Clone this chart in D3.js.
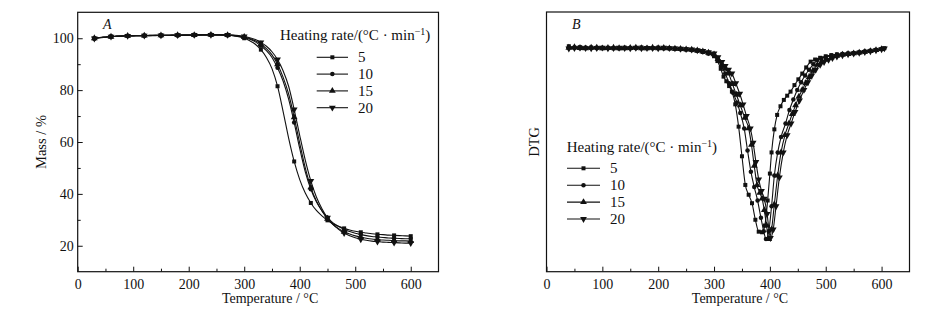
<!DOCTYPE html>
<html><head><meta charset="utf-8">
<script src="https://cdn.jsdelivr.net/npm/d3@7"></script>
<style>
body{margin:0;background:#fff}
svg{display:block}
text{font-family:"Liberation Serif","Times New Roman",serif;fill:#111}
</style>
</head><body>
<svg id="c" width="945" height="325"></svg>
<script>
// ---------- DATA ----------
const rates = ["5", "10", "15", "20"];
const xTicks = [0, 100, 200, 300, 400, 500, 600];
const xMinorTicks = [50, 150, 250, 350, 450, 550];
const yTicksMass = [20, 40, 60, 80, 100];
const yMinorMass = [30, 50, 70, 90];

// TG: temperature (°C)
const tgTemps = [30,40,50,60,70,80,90,100,110,120,130,140,150,160,170,180,190,200,210,220,230,240,250,260,270,
  280,290,300,310,320,330,340,350,360,370,380,390,400,410,420,430,440,450,460,470,480,490,500,510,520,530,540,550,560,570,580,590,600];
// TG: mass (%)
const tgMass5 = [100.0,100.3,100.5,100.7,100.8,100.9,100.9,101.0,101.0,101.0,101.1,101.1,101.1,101.1,101.2,101.2,101.2,101.2,101.3,101.3,101.3,101.3,101.3,101.3,101.2,
  101.0,100.6,100.0,99.0,97.7,95.6,92.6,88.3,81.5,71.8,61.5,52.5,45.5,40.3,36.5,33.6,31.5,29.8,28.5,27.5,26.7,26.1,25.6,25.2,24.9,24.6,24.4,24.3,24.1,24.0,23.9,23.8,23.7];
const tgMass10 = [99.8,100.2,100.5,100.6,100.8,100.8,100.9,100.9,101.0,101.0,101.0,101.0,101.1,101.1,101.1,101.1,101.2,101.2,101.2,101.2,101.3,101.3,101.3,101.2,101.2,
  101.0,100.7,100.3,99.6,98.6,97.1,95.2,92.6,88.6,83.5,76.5,67.5,57.5,48.5,41.8,37.0,33.5,30.8,28.8,27.4,26.3,25.5,24.8,24.3,23.9,23.6,23.4,23.2,23.0,22.9,22.8,22.7,22.7];
const tgMass15 = [100.0,100.3,100.4,100.6,100.7,100.8,100.9,100.9,101.0,101.0,101.0,101.1,101.1,101.1,101.1,101.2,101.2,101.2,101.2,101.3,101.3,101.3,101.3,101.3,101.2,
  101.1,100.8,100.5,99.9,99.0,97.7,96.0,93.6,90.0,85.0,78.5,69.5,59.5,50.0,42.5,37.3,33.4,30.4,28.2,26.6,25.4,24.5,23.8,23.3,22.9,22.6,22.4,22.2,22.1,22.0,21.9,21.9,21.8];
const tgMass20 = [99.9,100.2,100.4,100.6,100.7,100.8,100.9,101.0,101.0,101.0,101.1,101.1,101.1,101.1,101.2,101.2,101.2,101.2,101.3,101.3,101.3,101.3,101.3,101.3,101.3,
  101.2,101.0,100.7,100.2,99.5,98.4,96.9,94.8,91.8,87.5,81.5,72.5,62.5,53.0,45.0,38.8,34.3,30.8,28.2,26.3,24.9,23.9,23.1,22.5,22.1,21.8,21.6,21.4,21.3,21.2,21.1,21.0,21.0];

// DTG: [temperature °C, DTG (arb. units)]
const dtg5 = [[40,-0.28],[50,-0.36],[60,-0.33],[70,-0.37],[80,-0.34],[90,-0.36],[100,-0.38],[110,-0.36],[120,-0.39],[130,-0.37],[140,-0.35],[150,-0.38],[160,-0.37],[170,-0.34],[180,-0.38],[190,-0.37],[200,-0.35],[210,-0.39],[220,-0.38],[230,-0.41],[240,-0.42],[250,-0.45],[260,-0.48],[270,-0.52],[280,-0.58],[290,-0.66],
  [300,-0.8],[306,-1.05],[312,-1.45],[317,-1.86],[322,-2.1],[327,-2.35],[332,-2.64],[338,-3.3],[344,-4.46],[350,-6.0],[356,-7.49],[362,-8.0],[368,-8.44],[374,-9.3],[380,-9.92],[386,-9.95],[391,-9.6],[396,-8.3],[400,-6.9],[403,-5.8],[408,-4.6],[413,-3.85],[419,-3.4],[425,-3.07],[431,-2.85],[437,-2.64],[444,-2.3],[451,-2.0],[458,-1.7],[465,-1.38],[473,-1.08],[481,-0.97],[490,-0.88],[500,-0.8],[510,-0.74],[520,-0.7],[530,-0.68],[540,-0.66],[550,-0.63],[560,-0.6],[570,-0.56],[580,-0.52],[590,-0.47],[600,-0.42],[605,-0.38]];
const dtg10 = [[40,-0.33],[50,-0.35],[60,-0.38],[70,-0.35],[80,-0.37],[90,-0.39],[100,-0.36],[110,-0.38],[120,-0.37],[130,-0.40],[140,-0.37],[150,-0.36],[160,-0.39],[170,-0.37],[180,-0.36],[190,-0.39],[200,-0.37],[210,-0.38],[220,-0.40],[230,-0.40],[240,-0.43],[250,-0.44],[260,-0.47],[270,-0.51],[280,-0.56],[290,-0.64],
  [300,-0.75],[307,-1.0],[314,-1.35],[320,-1.7],[327,-2.2],[334,-2.7],[341,-3.2],[347,-3.75],[354,-4.55],[360,-5.7],[366,-6.8],[372,-7.6],[378,-8.3],[384,-9.2],[389,-9.9],[393,-10.3],[398,-9.9],[403,-8.6],[408,-7.0],[414,-5.8],[420,-5.0],[428,-4.3],[435,-3.6],[442,-3.05],[449,-2.55],[456,-2.15],[463,-1.8],[470,-1.5],[478,-1.22],[485,-1.0],[492,-0.9],[500,-0.84],[510,-0.77],[520,-0.72],[530,-0.69],[540,-0.66],[550,-0.64],[560,-0.6],[570,-0.56],[580,-0.52],[590,-0.47],[600,-0.42]];
const dtg15 = [[40,-0.36],[50,-0.33],[60,-0.37],[70,-0.39],[80,-0.36],[90,-0.35],[100,-0.39],[110,-0.37],[120,-0.36],[130,-0.38],[140,-0.39],[150,-0.37],[160,-0.35],[170,-0.38],[180,-0.39],[190,-0.36],[200,-0.38],[210,-0.37],[220,-0.39],[230,-0.41],[240,-0.42],[250,-0.44],[260,-0.46],[270,-0.50],[280,-0.55],[290,-0.62],
  [300,-0.7],[307,-0.95],[314,-1.25],[320,-1.45],[326,-1.7],[333,-2.25],[340,-2.8],[347,-3.35],[355,-4.0],[362,-4.55],[367,-5.4],[372,-6.5],[377,-7.5],[382,-7.9],[386,-8.2],[390,-8.8],[394,-9.6],[398,-10.3],[403,-9.8],[408,-8.5],[414,-7.0],[420,-5.8],[427,-4.9],[434,-4.3],[440,-3.8],[446,-3.35],[452,-2.9],[458,-2.55],[464,-2.2],[470,-1.9],[477,-1.55],[485,-1.25],[492,-1.1],[500,-0.97],[510,-0.86],[520,-0.78],[530,-0.72],[540,-0.68],[550,-0.65],[560,-0.61],[570,-0.57],[580,-0.53],[590,-0.48],[600,-0.43]];
const dtg20 = [[40,-0.40],[50,-0.38],[60,-0.35],[70,-0.38],[80,-0.39],[90,-0.37],[100,-0.35],[110,-0.39],[120,-0.38],[130,-0.36],[140,-0.38],[150,-0.39],[160,-0.36],[170,-0.39],[180,-0.37],[190,-0.38],[200,-0.39],[210,-0.36],[220,-0.38],[230,-0.39],[240,-0.41],[250,-0.43],[260,-0.45],[270,-0.49],[280,-0.53],[290,-0.59],
  [300,-0.65],[307,-0.85],[314,-1.1],[320,-1.3],[326,-1.5],[332,-1.7],[339,-2.2],[346,-2.75],[352,-3.3],[358,-3.9],[365,-4.55],[370,-5.3],[375,-6.3],[380,-7.2],[385,-7.8],[390,-8.2],[395,-9.0],[401,-10.25],[406,-9.8],[411,-8.6],[417,-7.1],[424,-5.8],[431,-4.9],[438,-4.3],[445,-3.7],[453,-3.1],[461,-2.55],[468,-2.15],[475,-1.8],[482,-1.5],[490,-1.25],[497,-1.1],[505,-0.99],[512,-0.9],[520,-0.82],[530,-0.75],[540,-0.7],[550,-0.66],[560,-0.62],[570,-0.58],[580,-0.54],[590,-0.49],[600,-0.44],[605,-0.39]];

// ---------- DRAW ----------
const svg = d3.select("#c");
const FONT = 14;

const tgSeries = [tgMass5, tgMass10, tgMass15, tgMass20].map(arr => tgTemps.map((t, i) => [t, arr[i]]));
const dtgSeries = [dtg5, dtg10, dtg15, dtg20];

const symTypes = [d3.symbolSquare, d3.symbolCircle, d3.symbolTriangle, d3.symbolTriangle];
const symSizes = [16, 16, 20, 20];
const symRot = [0, 0, 0, 180];
function marker(g, i, x, y) {
  g.append("path")
    .attr("d", d3.symbol().type(symTypes[i]).size(symSizes[i])())
    .attr("transform", `translate(${x},${y}) rotate(${symRot[i]})`)
    .attr("fill", "#111");
}

function panel(opt) {
  const {x0, x1, y0, y1, yDomain, series, markerEvery, label, yLabel, yTicks, yMinor, legend} = opt;
  const x = d3.scaleLinear().domain([0, 650]).range([x0, x1]);
  const y = d3.scaleLinear().domain(yDomain).range([y1, y0]);
  const g = svg.append("g");

  // x axis major
  const ax = g.append("g").attr("transform", `translate(0,${y1})`)
    .call(d3.axisBottom(x).tickValues(xTicks).tickSize(-5).tickPadding(7).tickFormat(d3.format("d")));
  ax.select(".domain").remove();
  ax.selectAll("line").attr("stroke", "#111");
  ax.selectAll("text").attr("font-size", FONT).attr("font-family", '"Liberation Serif",serif').attr("fill", "#111");
  const axm = g.append("g").attr("transform", `translate(0,${y1})`)
    .call(d3.axisBottom(x).tickValues(xMinorTicks).tickSize(-3).tickFormat(""));
  axm.select(".domain").remove();
  axm.selectAll("line").attr("stroke", "#111");

  if (yTicks) {
    const ay = g.append("g").attr("transform", `translate(${x0},0)`)
      .call(d3.axisLeft(y).tickValues(yTicks).tickSize(-5).tickPadding(4).tickFormat(d3.format("d")));
    ay.select(".domain").remove();
    ay.selectAll("line").attr("stroke", "#111");
    ay.selectAll("text").attr("font-size", FONT).attr("font-family", '"Liberation Serif",serif').attr("fill", "#111");
    const aym = g.append("g").attr("transform", `translate(${x0},0)`)
      .call(d3.axisLeft(y).tickValues(yMinor).tickSize(-3).tickFormat(""));
    aym.select(".domain").remove();
    aym.selectAll("line").attr("stroke", "#111");
  }

  // frame
  g.append("rect").attr("x", x0).attr("y", y0).attr("width", x1 - x0).attr("height", y1 - y0)
    .attr("fill", "none").attr("stroke", "#111").attr("stroke-width", 1.2);

  // curves
  const line = d3.line().x(d => x(d[0])).y(d => y(d[1])).curve(d3.curveMonotoneX);
  series.forEach((s, i) => {
    g.append("path").attr("d", line(s)).attr("fill", "none").attr("stroke", "#111").attr("stroke-width", 1.1);
    s.forEach((d, j) => { if (j % markerEvery === 0) marker(g, i, x(d[0]), y(d[1])); });
  });

  // titles
  g.append("text").attr("x", (x0 + x1) / 2 + 12).attr("y", 303).attr("text-anchor", "middle")
    .attr("font-size", FONT).text("Temperature / °C");
  g.append("text").attr("transform", `translate(${yLabel.x},${(y0 + y1) / 2}) rotate(-90)`)
    .attr("text-anchor", "middle").attr("font-size", FONT + 0.5).text(yLabel.text);
  g.append("text").attr("x", label.x).attr("y", 29).attr("font-style", "italic")
    .attr("font-size", FONT).text(label.text);

  // legend
  const lg = g.append("g");
  const t = lg.append("text").attr("x", legend.tx).attr("y", legend.ty).attr("font-size", 15);
  t.append("tspan").text("Heating rate/(°C · min");
  t.append("tspan").attr("dy", -5).attr("font-size", 10).text("−1");
  t.append("tspan").attr("dy", 5).text(")");
  rates.forEach((r, i) => {
    const yy = legend.ly + i * legend.dy;
    lg.append("line").attr("x1", legend.lx0).attr("x2", legend.lx1).attr("y1", yy).attr("y2", yy)
      .attr("stroke", "#111").attr("stroke-width", 1.1);
    marker(lg, i, (legend.lx0 + legend.lx1) / 2, yy);
    lg.append("text").attr("x", legend.lx1 + 10).attr("y", yy + 5).attr("font-size", 15).text(r);
  });
}

panel({
  x0: 77.7, x1: 438.5, y0: 12.3, y1: 271.7, yDomain: [10, 110],
  series: tgSeries, markerEvery: 3,
  label: {x: 103, text: "A"},
  yLabel: {x: 46, text: "Mass / %"},
  yTicks: yTicksMass, yMinor: yMinorMass,
  legend: {tx: 280, ty: 40, lx0: 316.7, lx1: 348, ly: 57.3, dy: 16.8}
});

panel({
  x0: 546.5, x1: 909.5, y0: 12, y1: 271.7, yDomain: [-12, 1.5],
  series: dtgSeries, markerEvery: 1,
  label: {x: 572, text: "B"},
  yLabel: {x: 539, text: "DTG"},
  yTicks: null,
  legend: {tx: 566.7, ty: 151.5, lx0: 567, lx1: 600, ly: 168.3, dy: 16.9}
});
</script>
</body></html>
